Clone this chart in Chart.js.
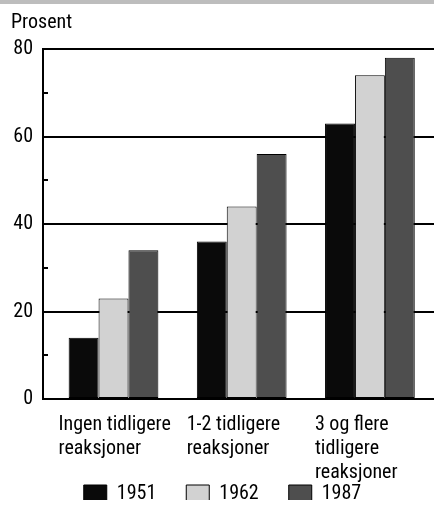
<!DOCTYPE html>
<html>
<head>
<meta charset="utf-8">
<script src="https://cdn.jsdelivr.net/npm/chart.js@4.4.1/dist/chart.umd.min.js"></script>
<style>
  html, body { margin: 0; padding: 0; background: #fff; }
  #wrap { position: relative; width: 434px; height: 531px; }
  #band { position: absolute; left: 0; top: 0; width: 434px; height: 4px; background: #bdbdbd; }
</style>
</head>
<body>
<div id="wrap">
  <canvas id="chart" width="434" height="531"></canvas>
  <div id="band"></div>
</div>
<script>
const categories = [
    ['Ingen tidligere', 'reaksjoner'],
    ['1-2 tidligere', 'reaksjoner'],
    ['3 og flere', 'tidligere', 'reaksjoner']
];
const years = ['1951', '1962', '1987'];
const values1951 = [14, 36, 63];
const values1962 = [23, 44, 74];
const values1987 = [34, 56, 78];
const yTicks = [0, 20, 40, 60, 80];
const minorTicks = [10, 30, 50, 70];

const FONT = "'Roboto Condensed', 'Liberation Sans', sans-serif";

const toPoints = vals => vals.map((v, i) => ({ x: i, y: v }));

// small inward ticks on the y axis between the labelled values
const minorTickPlugin = {
    id: 'minorTicks',
    afterDatasetsDraw(chart) {
        const y = chart.scales.y;
        const ctx = chart.ctx;
        ctx.save();
        ctx.strokeStyle = '#000';
        ctx.lineWidth = 2;
        minorTicks.forEach(v => {
            const py = Math.round(y.getPixelForValue(v));
            ctx.beginPath();
            ctx.moveTo(y.right, py);
            ctx.lineTo(y.right + 5, py);
            ctx.stroke();
        });
        ctx.restore();
    }
};

// pull the legend up closer to the category labels
const legendShift = {
    id: 'legendShift',
    afterLayout(chart) {
        chart.legend.top -= 31;
        chart.legend.bottom -= 31;
    }
};

new Chart(document.getElementById('chart'), {
    type: 'bar',
    data: {
        datasets: [
            { label: years[0], data: toPoints(values1951), backgroundColor: '#0a0a0a' },
            { label: years[1], data: toPoints(values1962), backgroundColor: '#d2d2d2' },
            { label: years[2], data: toPoints(values1987), backgroundColor: '#4e4e4e' }
        ].map(d => Object.assign(d, {
            borderColor: '#000',
            borderWidth: 1,
            borderSkipped: false,
            categoryPercentage: 0.7,
            barPercentage: 1
        }))
    },
    plugins: [minorTickPlugin, legendShift],
    options: {
        responsive: false,
        animation: false,
        layout: { padding: { left: 11, right: 0, top: 0, bottom: 0 } },
        plugins: {
            title: {
                display: true,
                text: 'Prosent',
                align: 'start',
                color: '#000',
                font: { family: FONT, size: 20, weight: 'normal', lineHeight: 1.2 },
                padding: { top: 11, bottom: 14 }
            },
            legend: {
                position: 'bottom',
                maxHeight: 46,
                labels: {
                    color: '#000',
                    font: { family: FONT, size: 20 },
                    boxWidth: 23,
                    boxHeight: 18,
                    padding: 30
                }
            },
            tooltip: { enabled: false }
        },
        scales: {
            x: {
                type: 'linear',
                min: -0.55,
                max: 2.5,
                offset: false,
                grid: { display: false, drawTicks: false },
                border: { display: false },
                afterBuildTicks: s => { s.ticks = categories.map((c, i) => ({ value: i })); },
                afterFit: s => { s.paddingLeft = 0; s.paddingRight = 0; s.height = 86; },
                ticks: {
                    callback: v => categories[v],
                    align: 'start',
                    labelOffset: -55,
                    padding: 14,
                    color: '#000',
                    maxRotation: 0,
                    autoSkip: false,
                    font: { family: FONT, size: 20, lineHeight: 1.2 }
                }
            },
            y: {
                min: 0,
                max: 80,
                afterBuildTicks: s => { s.ticks = yTicks.map(v => ({ value: v })); },
                afterFit: s => { s.width = 32; },
                grid: { color: '#000', lineWidth: 2, drawTicks: false },
                border: { display: true, color: '#000', width: 2 },
                ticks: {
                    padding: 10,
                    color: '#000',
                    font: { family: FONT, size: 20, lineHeight: 1.2 }
                }
            }
        }
    }
});
</script>
</body>
</html>
